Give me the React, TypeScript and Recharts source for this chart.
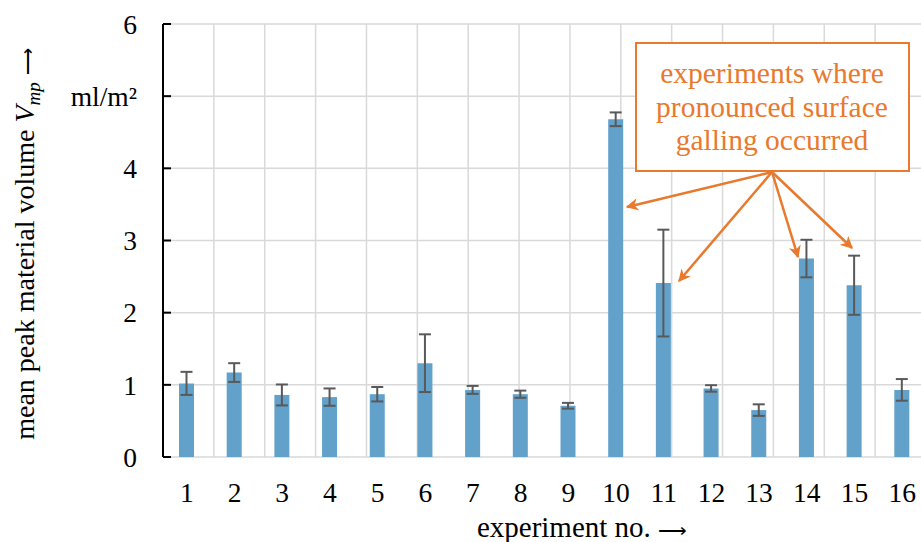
import React from 'react';
import { BarChart, Bar, XAxis, YAxis, CartesianGrid, ErrorBar } from 'recharts';

// experiment numbers and measured values (ml/m²)
const experiments = ['1', '2', '3', '4', '5', '6', '7', '8', '9', '10', '11', '12', '13', '14', '15', '16'];
const vmpMean = [1.02, 1.17, 0.86, 0.83, 0.87, 1.3, 0.93, 0.87, 0.71, 4.68, 2.41, 0.95, 0.65, 2.75, 2.38, 0.93];
const vmpErr = [0.16, 0.13, 0.145, 0.12, 0.1, 0.4, 0.055, 0.05, 0.04, 0.095, 0.74, 0.045, 0.08, 0.26, 0.41, 0.15];
const yTicks = [0, 1, 2, 3, 4, 5, 6];
const boundaryTicks = [0, 1, 2, 3, 4, 5, 6, 7, 8, 9, 10, 11, 12, 13, 14, 15, 16];
const noteLines = ['experiments where', 'pronounced surface', 'galling occurred'];

const data = experiments.map((exp, i) => ({ exp, mean: vmpMean[i], err: vmpErr[i] }));

const FONT = '"Liberation Serif", "Times New Roman", serif';
const ARROW_FONT = '"DejaVu Sans", sans-serif';
const ORANGE = '#E8792D';
const BLUE = '#62A1CA';

const yTickFormat = (v: number) => (v === 5 ? 'ml/m²' : String(v));

const YLabel = () => (
  <text
    transform="translate(34, 244) rotate(-90)"
    textAnchor="middle"
    fontFamily={FONT}
    fontSize={28}
    fill="#000"
  >
    mean peak material volume{' '}
    <tspan fontStyle="italic">V</tspan>
    <tspan fontStyle="italic" fontSize={19} dy={6}>mp</tspan>
    <tspan dy={-6}> </tspan>
    <tspan fontFamily={ARROW_FONT} fontSize={19} fontWeight={300}>⟶</tspan>
  </text>
);

const XLabel = () => (
  <text x={582} y={537} textAnchor="middle" fontFamily={FONT} fontSize={29} fill="#000">
    experiment no.{' '}
    <tspan fontFamily={ARROW_FONT} fontSize={20} fontWeight={300}>⟶</tspan>
  </text>
);

// callout box with arrows to the galling experiments
const arrowTips = [
  [627, 207],
  [679, 281],
  [798, 257],
  [852, 248],
];

function Callout() {
  const ox = 772;
  const oy = 172;
  return (
    <svg width={921} height={542} style={{ position: 'absolute', left: 0, top: 0, pointerEvents: 'none' }}>
      <defs>
        <marker id="head" viewBox="0 0 10 10" refX="9" refY="5" markerWidth="5" markerHeight="5" orient="auto">
          <path d="M0,0 L10,5 L0,10 L3,5 Z" fill={ORANGE} />
        </marker>
      </defs>
      <rect x={636} y={43} width={273} height={128} fill="#fff" stroke={ORANGE} strokeWidth={2} />
      {noteLines.map((t, i) => (
        <text key={t} x={772} y={83 + i * 33.5} textAnchor="middle" fontFamily={FONT} fontSize={29.5} fill={ORANGE}>
          {t}
        </text>
      ))}
      {arrowTips.map(([x, y], i) => (
        <line key={i} x1={ox} y1={oy} x2={x} y2={y} stroke={ORANGE} strokeWidth={2.5} markerEnd="url(#head)" />
      ))}
    </svg>
  );
}

export default function App() {
  return (
    <div
      style={{
        position: 'absolute',
        left: 0,
        top: 0,
        width: 921,
        height: 542,
        overflow: 'hidden',
        background: '#fff',
        fontFamily: FONT,
      }}
    >
      <BarChart width={940} height={542} data={data} margin={{ top: 24, right: 14, left: 0, bottom: 0 }}>
        <CartesianGrid xAxisId="bot" stroke="#d9d9d9" strokeWidth={1.5} />
        <XAxis
          xAxisId="top"
          orientation="top"
          type="number"
          domain={[0, 16]}
          allowDataOverflow
          ticks={boundaryTicks}
          interval={0}
          height={0}
          tickSize={-8}
          tickFormatter={() => ''}
          axisLine={{ stroke: '#000', strokeWidth: 2 }}
          tickLine={{ stroke: '#000', strokeWidth: 2 }}
        />
        <XAxis
          xAxisId="bot"
          type="number"
          domain={[0, 16]}
          allowDataOverflow
          ticks={boundaryTicks}
          interval={0}
          height={0}
          tickSize={-8}
          tickFormatter={() => ''}
          axisLine={{ stroke: '#000', strokeWidth: 2 }}
          tickLine={{ stroke: '#000', strokeWidth: 2 }}
        />
        <XAxis
          xAxisId="cat"
          dataKey="exp"
          height={85}
          axisLine={false}
          tickLine={false}
          tickSize={0}
          tickMargin={25}
          interval={0}
          tick={{ fontSize: 27.5, fontFamily: FONT, fill: '#000' }}
          label={{ content: XLabel }}
        />
        <YAxis
          domain={[0, 6]}
          ticks={yTicks}
          interval={0}
          width={163}
          tickSize={-8}
          tickMargin={34}
          tickFormatter={yTickFormat}
          tick={{ fontSize: 27.5, fontFamily: FONT, fill: '#000' }}
          axisLine={{ stroke: '#000', strokeWidth: 2 }}
          tickLine={{ stroke: '#000', strokeWidth: 2 }}
          label={{ content: YLabel }}
        />
        <Bar dataKey="mean" xAxisId="cat" fill={BLUE} barSize={15} isAnimationActive={false}>
          <ErrorBar dataKey="err" width={6} stroke="#595959" strokeWidth={2} isAnimationActive={false} />
        </Bar>
      </BarChart>
      <Callout />
    </div>
  );
}
